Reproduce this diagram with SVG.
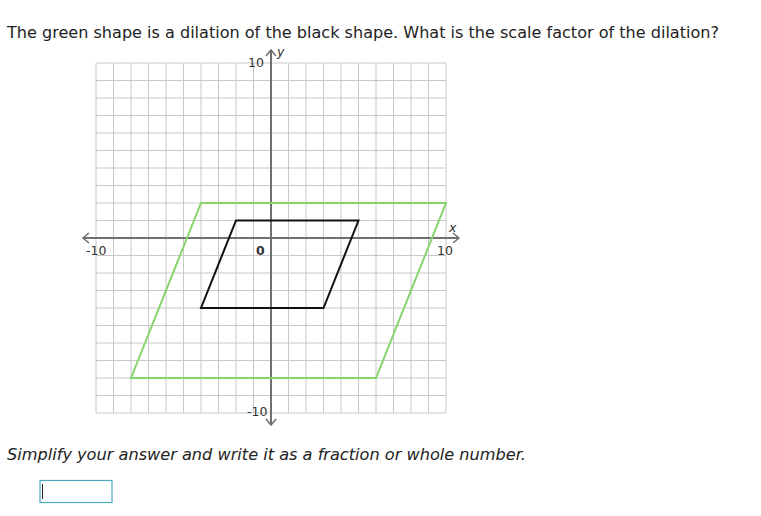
<svg xmlns="http://www.w3.org/2000/svg" width="761" height="516" viewBox="0 0 761 516">
<defs>
<style>
.t{font-family:"DejaVu Sans",Verdana,sans-serif;fill:#222}
.lbl{font-family:"DejaVu Sans",Verdana,sans-serif;font-size:12.5px;fill:#333}
.g{stroke:#c8c8c8;stroke-width:1;fill:none}
.ax{stroke:#707070;stroke-width:2;fill:none}
.ah{stroke:#707070;stroke-width:1.5;fill:none}
</style>
</defs>
<rect width="761" height="516" fill="#fff"/>
<text class="t" x="7" y="38" font-size="16.1" textLength="712" lengthAdjust="spacingAndGlyphs">The green shape is a dilation of the black shape. What is the scale factor of the dilation?</text>
<g id="grid">
<path class="g" d="M96,63V413M113.5,63V413M131,63V413M148.5,63V413M166,63V413M183.5,63V413M201,63V413M218.5,63V413M236,63V413M253.5,63V413M288.5,63V413M306,63V413M323.5,63V413M341,63V413M358.5,63V413M376,63V413M393.5,63V413M411,63V413M428.5,63V413M446,63V413"/>
<path class="g" d="M96,63H446M96,80.5H446M96,98H446M96,115.5H446M96,133H446M96,150.5H446M96,168H446M96,185.5H446M96,203H446M96,220.5H446M96,255.5H446M96,273H446M96,290.5H446M96,308H446M96,325.5H446M96,343H446M96,360.5H446M96,378H446M96,395.5H446M96,413H446"/>
</g>
<g id="axes">
<path class="ax" d="M83,238H459M271,50V425"/>
<path class="ah" d="M89,233L83,238L89,243M453,233L459,238L453,243M266,56L271,50L276,56M266,419L271,425L276,419"/>
</g>
<g id="labels">
<text class="lbl" x="248" y="67">10</text>
<text class="lbl" x="277" y="56" font-style="italic">y</text>
<text class="lbl" x="86" y="255">-10</text>
<text class="lbl" x="449" y="232" font-style="italic">x</text>
<text class="lbl" x="437" y="255">10</text>
<text class="lbl" x="256" y="255" font-weight="bold" fill="#111">0</text>
<text class="lbl" x="247" y="416">-10</text>
</g>
<g id="green-shape">
<polygon points="201,203 446,203 376,378 131,378" fill="none" stroke="#86d46a" stroke-width="2"/>
</g>
<g id="black-shape">
<polygon points="236,220.5 358.5,220.5 323.5,308 201,308" fill="none" stroke="#111" stroke-width="2"/>
</g>
<text class="t" x="7" y="460" font-size="16.2" font-style="italic" textLength="519" lengthAdjust="spacingAndGlyphs">Simplify your answer and write it as a fraction or whole number.</text>
<g id="answer-box">
<rect x="40" y="480.5" width="72" height="22" fill="#fff" stroke="#4aa9bd" stroke-width="1.2"/>
<line x1="42.5" y1="484" x2="42.5" y2="499" stroke="#222" stroke-width="1"/>
</g>
</svg>
